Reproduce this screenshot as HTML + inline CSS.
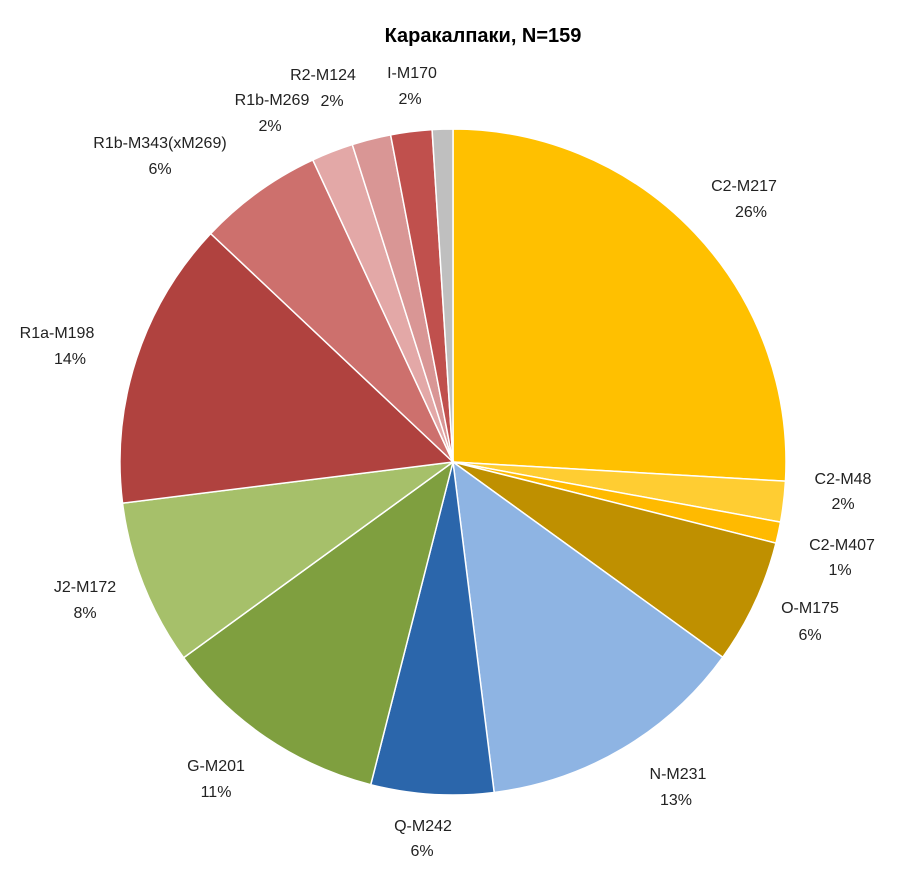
<!DOCTYPE html>
<html><head><meta charset="utf-8"><style>
html,body{margin:0;padding:0;background:#fff;}
svg{display:block;font-family:"Liberation Sans","Noto Sans CJK SC",sans-serif;}
</style></head><body>
<svg id="s" width="905" height="884" viewBox="0 0 905 884">
<rect width="905" height="884" fill="#fff"/>
<g id="p"></g>
<text x="483" y="42" font-size="20" font-weight="bold" text-anchor="middle" fill="#000">Каракалпаки, N=159</text>
<g font-size="16" fill="#222" text-anchor="middle">
<text x="744" y="191">C2-M217</text><text x="751" y="217">26%</text>
<text x="843" y="484">C2-M48</text><text x="843" y="509">2%</text>
<text x="842" y="550">C2-M407</text><text x="840" y="575">1%</text>
<text x="810" y="613">O-M175</text><text x="810" y="640">6%</text>
<text x="678" y="779">N-M231</text><text x="676" y="805">13%</text>
<text x="423" y="831">Q-M242</text><text x="422" y="856">6%</text>
<text x="216" y="771">G-M201</text><text x="216" y="797">11%</text>
<text x="85" y="592">J2-M172</text><text x="85" y="618">8%</text>
<text x="57" y="338">R1a-M198</text><text x="70" y="364">14%</text>
<text x="160" y="148">R1b-M343(xM269)</text><text x="160" y="174">6%</text>
<text x="272" y="105">R1b-M269</text><text x="270" y="131">2%</text>
<text x="323" y="80">R2-M124</text><text x="332" y="106">2%</text>
<text x="412" y="78">I-M170</text><text x="410" y="104">2%</text>
</g>
</svg>
<script>
var cx=453,cy=462,r=333;
var ang=[0,93.3,100.4,104.1,125.9,172.9,194.3,234,262.9,313.3,335.1,342.4,349.2,356.4,360];
var col=["#FFC000","#FFCD32","#FFBA00","#BF9000","#8EB4E3","#2B66AB","#7F9F3F","#A6C06A","#B0423F","#CD706D","#E3A8A7","#D99695","#C0504D","#BFBFBF"];
var g=document.getElementById('p'),h='';
function pt(d){var a=d/180*Math.PI;return [cx+r*Math.sin(a),cy-r*Math.cos(a)];}
for(var i=0;i<14;i++){var a=pt(ang[i]),b=pt(ang[i+1]);var large=(ang[i+1]-ang[i])>180?1:0;
h+='<path d="M'+cx+','+cy+'L'+a[0].toFixed(2)+','+a[1].toFixed(2)+'A'+r+','+r+' 0 '+large+' 1 '+b[0].toFixed(2)+','+b[1].toFixed(2)+'Z" fill="'+col[i]+'" stroke="#fff" stroke-width="1.5"/>';}
g.innerHTML=h;
</script>
</body></html>
